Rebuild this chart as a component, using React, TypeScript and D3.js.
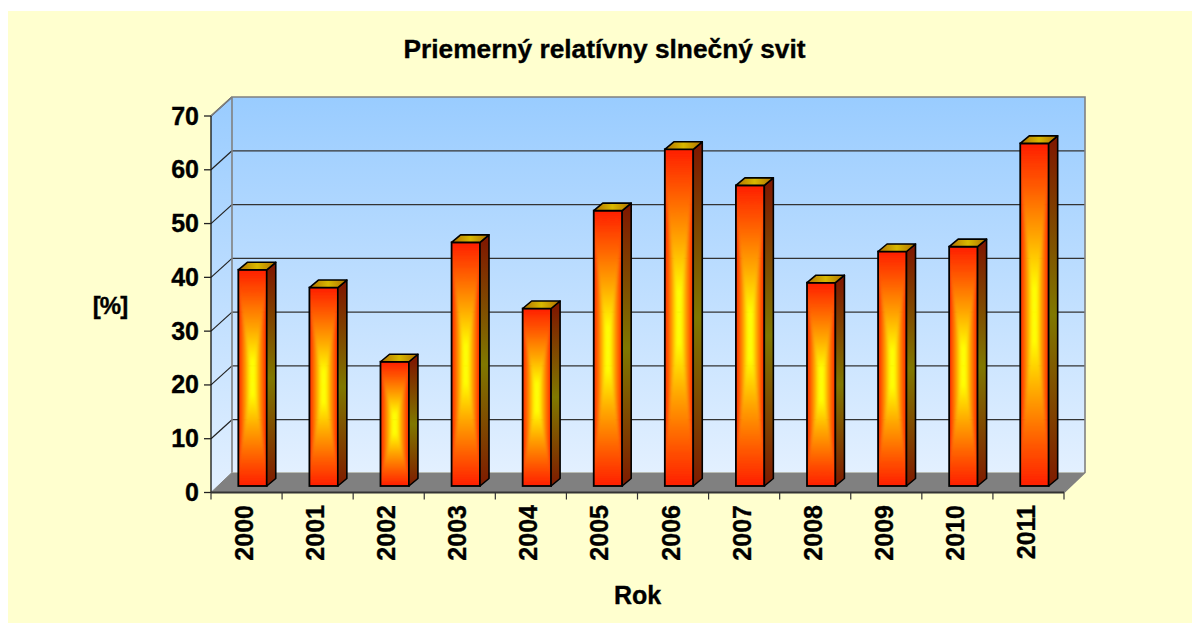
import React from "react";
import * as d3 from "d3";

const years = ["2000","2001","2002","2003","2004","2005","2006","2007","2008","2009","2010","2011"];
const values = [40.2,36.9,23.1,45.3,33.0,51.2,62.6,55.9,37.8,43.6,44.5,63.7];
const yTicks = [0,10,20,30,40,50,60,70];
const title = "Priemerný relatívny slnečný svit";

const W = 1192, H = 623;
const left = 211, right = 1064, bottom = 492.5, top = 116;
const wallDx = 21, wallDy = -19;
const barDepthDx = 9, barDepthDy = -7.5;
const barOffX = 6, barOffY = -6.5;
const font = "'Liberation Sans', Arial, sans-serif";

const x = d3.scaleBand<string>().domain(years).range([left, right]).paddingInner(0.6).paddingOuter(0.3);
const xStep = d3.scaleLinear().domain([0, years.length]).range([left, right]);
const y = d3.scaleLinear().domain([0, 70]).range([bottom, top]);

const poly = (pts: number[][]) => pts.map(p => p.join(",")).join(" ");

const frontStops: [number, string][] = [[0, "#ff1e00"], [0.25, "#ff5a00"], [0.55, "#ffa800"], [0.85, "#ffff00"], [1, "#ffff00"]];

function Stops() {
  return <>{frontStops.map(([o, c], i) => <stop key={i} offset={o} stopColor={c} />)}</>;
}

function Bar({ year, value }: { year: string; value: number }) {
  const x0 = x(year)! + barOffX;
  const x1 = x0 + x.bandwidth();
  const yb = y(0) + barOffY;
  const yt = y(value) + barOffY;
  const xm = (x0 + x1) / 2, ym = (yb + yt) / 2;
  const h = yb - yt;
  const w = x1 - x0;
  const dx = barDepthDx, dy = barDepthDy;
  const c0 = [xm, ym];
  const gid = (s: string) => `${s}${year}`;
  const tri = (pts: number[][], f: string) => <polygon points={poly(pts)} fill={f} stroke={f} strokeWidth={0.4} />;
  return (
    <g>
      <defs>
        <linearGradient id={gid("l")} gradientUnits="userSpaceOnUse" x1={x0} y1={0} x2={xm} y2={0}><Stops /></linearGradient>
        <linearGradient id={gid("r")} gradientUnits="userSpaceOnUse" x1={x1} y1={0} x2={xm} y2={0}><Stops /></linearGradient>
        <linearGradient id={gid("t")} gradientUnits="userSpaceOnUse" x1={0} y1={yt} x2={0} y2={ym}><Stops /></linearGradient>
        <linearGradient id={gid("b")} gradientUnits="userSpaceOnUse" x1={0} y1={yb} x2={0} y2={ym}><Stops /></linearGradient>
        <linearGradient id={gid("s")} gradientUnits="userSpaceOnUse" x1={0} y1={yt} x2={0} y2={yb}>
          <stop offset={0} stopColor="#7f1a00" />
          <stop offset={0.5} stopColor="#807800" />
          <stop offset={1} stopColor="#7f1a00" />
        </linearGradient>
        <clipPath id={gid("c")}><rect x={x0} y={yt} width={w} height={h} /></clipPath>
      </defs>
      <g clipPath={`url(#${gid("c")})`}>
        <g filter="url(#soft)">
          {tri([[x0 - 4, yt - 4], [x1 + 4, yt - 4], c0], `url(#${gid("t")})`)}
          {tri([[x0 - 4, yb + 4], [x1 + 4, yb + 4], c0], `url(#${gid("b")})`)}
          {tri([[x0 - 4, yt - 4], [x0 - 4, yb + 4], c0], `url(#${gid("l")})`)}
          {tri([[x1 + 4, yt - 4], [x1 + 4, yb + 4], c0], `url(#${gid("r")})`)}
        </g>
      </g>
      <rect x={x0} y={yt} width={w} height={h} fill="none" stroke="#000" strokeWidth={1.8} />
      <polygon points={poly([[x1, yt], [x1 + dx, yt + dy], [x1 + dx, yb + dy], [x1, yb]])} fill={`url(#${gid("s")})`} stroke="#000" strokeWidth={1.6} strokeLinejoin="round" />
      <polygon points={poly([[x0, yt], [x0 + dx, yt + dy], [x1 + dx, yt + dy], [x1, yt]])} fill="url(#topF)" stroke="#000" strokeWidth={1.6} strokeLinejoin="round" />
    </g>
  );
}

export default function App() {
  const bx0 = left + wallDx, bx1 = right + wallDx, by0 = bottom + wallDy - 1, by1 = top + wallDy;
  const heavy = { stroke: "#000", strokeWidth: 0.35 };
  return (
    <svg width={W} height={H} style={{ position: "absolute", left: 0, top: 0, display: "block" }} fontFamily={font}>
      <defs>
        <linearGradient id="wall" x1={0} y1={0} x2={0} y2={1}>
          <stop offset={0} stopColor="#99ccff" />
          <stop offset={1} stopColor="#e3f0ff" />
        </linearGradient>
        <linearGradient id="topF" x1={0} y1={0} x2={1} y2={0}>
          <stop offset={0} stopColor="#b07000" />
          <stop offset={0.5} stopColor="#d8b800" />
          <stop offset={1} stopColor="#b07000" />
        </linearGradient>
        <filter id="soft" x="-20%" y="-20%" width="140%" height="140%">
          <feGaussianBlur stdDeviation="1.5" />
        </filter>
      </defs>
      <rect x={0} y={0} width={W} height={H} fill="#fff" />
      <rect x={8} y={11} width={W - 8} height={H - 11} fill="#ffffcf" />
      <text x={604.5} y={58} textAnchor="middle" fontSize={26.3} fontWeight={700} {...heavy}>{title}</text>

      <polygon points={poly([[left, top], [bx0, by1], [bx0, by0], [left, bottom]])} fill="url(#wall)" />
      <rect x={bx0} y={by1} width={bx1 - bx0} height={by0 - by1} fill="url(#wall)" />
      <polygon points={poly([[left, bottom], [bx0, by0], [bx1, by0], [right, bottom]])} fill="#808080" />

      {yTicks.filter(t => t > 0).map(t => (
        <g key={t}>
          <line x1={left} y1={y(t)} x2={bx0} y2={y(t) + wallDy} stroke="#222" strokeWidth={1.2} />
          {t < 70 && <line x1={bx0} y1={y(t) + wallDy} x2={bx1} y2={y(t) + wallDy} stroke="#333" strokeWidth={1.3} />}
        </g>
      ))}
      <polyline points={poly([[left, top], [bx0, by1], [bx1, by1], [bx1, by0], [right, bottom]])} fill="none" stroke="#808080" strokeWidth={1.6} />
      <line x1={bx0} y1={by1} x2={bx0} y2={by0} stroke="#808080" strokeWidth={1.6} />
      <line x1={left} y1={bottom} x2={bx0} y2={by0} stroke="#808080" strokeWidth={1} />

      {years.map((yr, i) => <Bar key={yr} year={yr} value={values[i]} />)}

      <line x1={left} y1={top} x2={left} y2={bottom} stroke="#111" strokeWidth={1.3} />
      <line x1={left} y1={bottom} x2={right} y2={bottom} stroke="#333" strokeWidth={1.8} />
      {yTicks.map(t => (
        <g key={t}>
          <line x1={left - 7} y1={y(t)} x2={left} y2={y(t)} stroke="#222" strokeWidth={1.3} />
          <text x={199} y={y(t) + 8.5} textAnchor="end" fontSize={25} fontWeight={700} {...heavy}>{t}</text>
        </g>
      ))}
      {d3.range(years.length + 1).map(i => (
        <line key={i} x1={xStep(i)} y1={bottom} x2={xStep(i)} y2={bottom + 7} stroke="#333" strokeWidth={1.2} />
      ))}
      {years.map((yr, i) => {
        const cx = (xStep(i) + xStep(i + 1)) / 2;
        return (
          <text key={yr} transform={`translate(${cx + 6.5},505) rotate(-90)`} textAnchor="end" fontSize={25} fontWeight={700} {...heavy}>{yr}</text>
        );
      })}
      <text x={110} y={314} textAnchor="middle" fontSize={24} fontWeight={700} letterSpacing={-1} {...heavy}>[%]</text>
      <text x={637.5} y={604} textAnchor="middle" fontSize={25} fontWeight={700} {...heavy}>Rok</text>
    </svg>
  );
}
